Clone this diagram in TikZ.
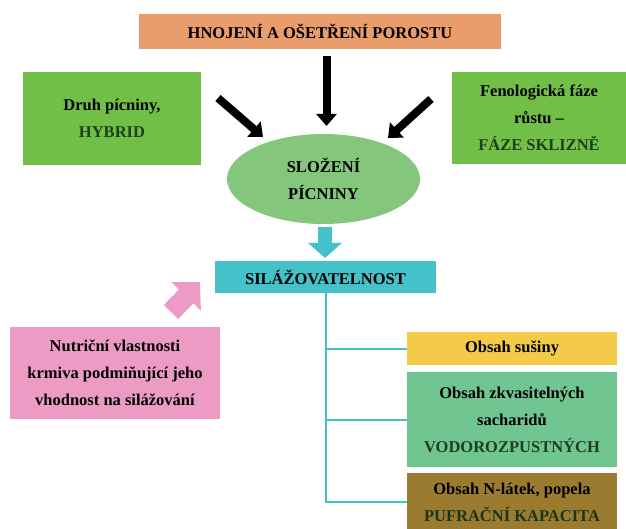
\documentclass[tikz,border=0pt]{standalone}
\usepackage{fontspec}
\setmainfont{Liberation Serif}
\usetikzlibrary{arrows.meta,shapes.geometric}

\definecolor{hnojeni}{HTML}{E99C6C}
\definecolor{druhbox}{HTML}{72BF47}
\definecolor{slozeni}{HTML}{84C67B}
\definecolor{silazbox}{HTML}{45C1C9}
\definecolor{nutribox}{HTML}{EC9CC4}
\definecolor{susinabox}{HTML}{F4CB48}
\definecolor{sacharbox}{HTML}{70C591}
\definecolor{dusikbox}{HTML}{9A7B30}
\definecolor{tmavazelena}{HTML}{1E3F1E}

\begin{document}
\begin{tikzpicture}[x=1pt, y=-1pt,
        box/.style={rectangle, inner sep=0pt, outer sep=0pt, align=center,
            font=\bfseries\fontsize{16.5}{27}\selectfont},
        bigarrow/.style={line width=8pt, -{Triangle[length=12pt, width=20pt]}},
        tree/.style={draw=silazbox, line width=2pt}]
            \useasboundingbox (0, 0) rectangle (626, 529);

            \node[box, fill=hnojeni, minimum width=362pt, minimum height=35pt] (hnojeni) at (320, 31.5) {HNOJENÍ A OŠETŘENÍ POROSTU};
            \node[box, fill=druhbox, minimum width=178pt, minimum height=93pt] (druh) at (112, 118.5) {Druh pícniny,\\\textcolor{tmavazelena}{HYBRID}};
            \node[box, fill=druhbox, minimum width=174pt, minimum height=92pt] (faze) at (539, 118) {Fenologická fáze\\růstu --\\\textcolor{tmavazelena}{FÁZE SKLIZNĚ}};
            \node[box, ellipse, fill=slozeni, minimum width=193pt, minimum height=90pt] (slozeni) at (323.5, 179) {SLOŽENÍ\\PÍCNINY};
            \node[box, fill=silazbox, minimum width=221pt, minimum height=32pt] (silaz) at (325.5, 277) {SILÁŽOVATELNOST};
            \node[box, fill=nutribox, minimum width=210pt, minimum height=92pt] (nutri) at (115, 373) {Nutriční vlastnosti\\krmiva podmiňující jeho\\vhodnost na silážování};
            \node[box, fill=susinabox, minimum width=210pt, minimum height=33pt] (susina) at (512, 348.5) {Obsah sušiny};
            \node[box, fill=sacharbox, minimum width=210pt, minimum height=95pt] (sachar) at (512, 419.5) {Obsah zkvasitelných\\sacharidů\\\textcolor{tmavazelena}{VODOROZPUSTNÝCH}};
            \node[box, fill=dusikbox, minimum width=210pt, minimum height=58pt] (dusik) at (512, 502) {Obsah N-látek, popela\\\textcolor{tmavazelena!85!black}{PUFRAČNÍ KAPACITA}};

            \coordinate (hnojeniA) at (326.5, 56);
            \coordinate (hnojeniB) at (326.5, 126);
            \coordinate (druhA) at (218, 98);
            \coordinate (druhB) at (263, 137);
            \coordinate (fazeA) at (431, 99);
            \coordinate (fazeB) at (388, 138);
            \coordinate (silazA) at (325, 227);
            \coordinate (silazB) at (325, 258);
            \coordinate (nutriA) at (171, 312);
            \coordinate (nutriB) at (200, 282);

            \draw[bigarrow] (hnojeniA) -- (hnojeniB);
            \draw[bigarrow] (druhA) -- (druhB);
            \draw[bigarrow] (fazeA) -- (fazeB);
            \draw[silazbox, line width=14pt, -{Triangle[length=15pt, width=33pt]}] (silazA) -- (silazB);
            \draw[nutribox, line width=20pt, -{Triangle[length=20pt, width=40pt]}] (nutriA) -- (nutriB);

            \draw[tree] (silaz.south) |- (susina.west);
            \draw[tree] (silaz.south) |- (sachar.west);
            \draw[tree] (silaz.south) |- (dusik.west);
        \end{tikzpicture}
\end{document}
